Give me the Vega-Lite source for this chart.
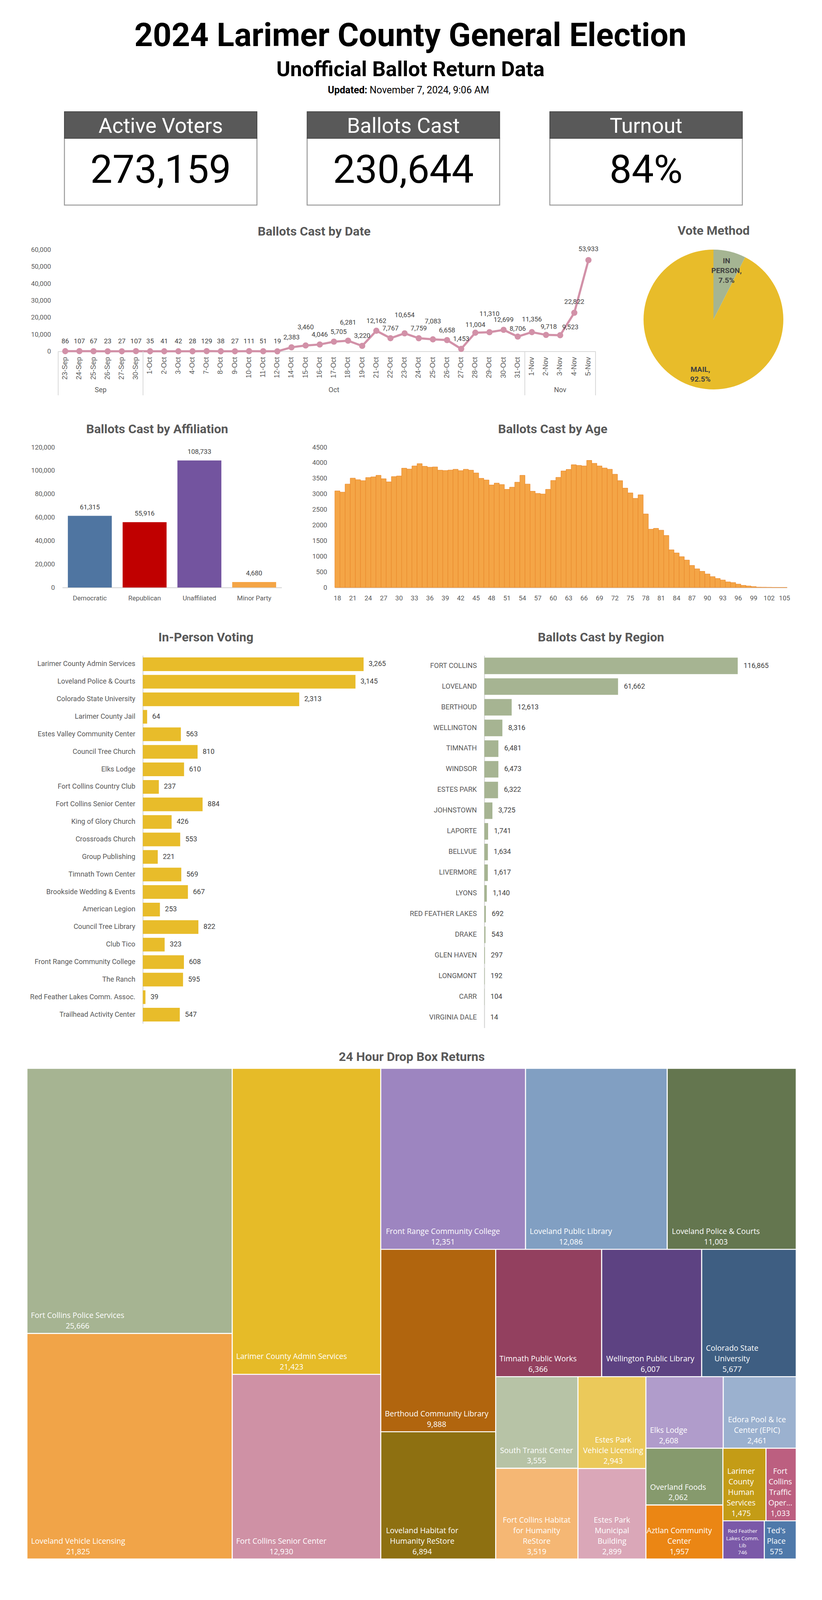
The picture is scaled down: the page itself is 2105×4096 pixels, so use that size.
{
"$schema": "https://vega.github.io/schema/vega-lite/v6.json",
"width": 2105, "height": 4096, "autosize": {"type": "none"}, "padding": 0, "background": "#ffffff",
"config": {
 "view": {"stroke": null}, "font": "Roboto",
 "axis": {"labelFont": "Roboto", "labelColor": "#595959", "labelFontSize": 17, "ticks": false, "tickSize": 0, "grid": false, "domainColor": "#D9D9D9", "domainWidth": 2.5, "titleFont": "Roboto", "titleFontSize": 32, "titleFontWeight": "bold", "titleColor": "#595959", "titleBaseline": "middle", "titleAlign": "center", "titleAngle": 0, "labelOverlap": false},
 "style": {
  "tmname": {"color": "#ffffff", "fill": "#ffffff", "font": "Open Sans", "fontSize": 19.5, "align": "center", "baseline": "middle", "lineBreak": "\n", "lineHeight": 27, "dy": -45.3},
  "tmval": {"color": "#ffffff", "fill": "#ffffff", "font": "Open Sans", "fontSize": 19.5, "align": "center", "baseline": "middle", "dy": -18.5},
  "tmnames": {"color": "#ffffff", "fill": "#ffffff", "font": "Open Sans", "fontSize": 13.5, "align": "center", "baseline": "middle", "lineBreak": "\n", "lineHeight": 18.4, "dy": -70.8},
  "tmvals": {"color": "#ffffff", "fill": "#ffffff", "font": "Open Sans", "fontSize": 13.5, "align": "center", "baseline": "middle", "dy": -15.6},
  "dlabel": {"color": "#404040", "fill": "#404040", "font": "Roboto", "fontSize": 17, "baseline": "middle", "align": "center"}
 }
},
"datasets": {
 "kpi": [{"metric": "Active Voters", "value": 273159}, {"metric": "Ballots Cast", "value": 230644}, {"metric": "Turnout", "value": 0.84}],
 "daily": [
  {"date": "23-Sep", "ballots": 86}, {"date": "24-Sep", "ballots": 107}, {"date": "25-Sep", "ballots": 67}, {"date": "26-Sep", "ballots": 23}, {"date": "27-Sep", "ballots": 27}, {"date": "30-Sep", "ballots": 107},
  {"date": "1-Oct", "ballots": 35}, {"date": "2-Oct", "ballots": 41}, {"date": "3-Oct", "ballots": 42}, {"date": "4-Oct", "ballots": 28}, {"date": "7-Oct", "ballots": 129}, {"date": "8-Oct", "ballots": 38}, {"date": "9-Oct", "ballots": 27}, {"date": "10-Oct", "ballots": 111}, {"date": "11-Oct", "ballots": 51}, {"date": "12-Oct", "ballots": 19},
  {"date": "14-Oct", "ballots": 2383}, {"date": "15-Oct", "ballots": 3460}, {"date": "16-Oct", "ballots": 4046}, {"date": "17-Oct", "ballots": 5705}, {"date": "18-Oct", "ballots": 6281}, {"date": "19-Oct", "ballots": 3220},
  {"date": "21-Oct", "ballots": 12162}, {"date": "22-Oct", "ballots": 7767}, {"date": "23-Oct", "ballots": 10654}, {"date": "24-Oct", "ballots": 7759}, {"date": "25-Oct", "ballots": 7083}, {"date": "26-Oct", "ballots": 6658}, {"date": "27-Oct", "ballots": 1453},
  {"date": "28-Oct", "ballots": 11004}, {"date": "29-Oct", "ballots": 11310}, {"date": "30-Oct", "ballots": 12699}, {"date": "31-Oct", "ballots": 8706},
  {"date": "1-Nov", "ballots": 11356}, {"date": "2-Nov", "ballots": 9718}, {"date": "3-Nov", "ballots": 9523}, {"date": "4-Nov", "ballots": 22822}, {"date": "5-Nov", "ballots": 53933}
 ],
 "method": [{"method": "IN PERSON", "share": 0.075}, {"method": "MAIL", "share": 0.925}],
 "party": [{"party": "Democratic", "ballots": 61315}, {"party": "Republican", "ballots": 55916}, {"party": "Unaffiliated", "ballots": 108733}, {"party": "Minor Party", "ballots": 4680}],
 "age": [
  {"age": 18, "ballots": 3100}, {"age": 19, "ballots": 3060}, {"age": 20, "ballots": 3320}, {"age": 21, "ballots": 3510}, {"age": 22, "ballots": 3460}, {"age": 23, "ballots": 3430}, {"age": 24, "ballots": 3530}, {"age": 25, "ballots": 3550}, {"age": 26, "ballots": 3600}, {"age": 27, "ballots": 3490},
  {"age": 28, "ballots": 3390}, {"age": 29, "ballots": 3560}, {"age": 30, "ballots": 3580}, {"age": 31, "ballots": 3830}, {"age": 32, "ballots": 3800}, {"age": 33, "ballots": 3900}, {"age": 34, "ballots": 3975}, {"age": 35, "ballots": 3890}, {"age": 36, "ballots": 3860}, {"age": 37, "ballots": 3870},
  {"age": 38, "ballots": 3765}, {"age": 39, "ballots": 3755}, {"age": 40, "ballots": 3770}, {"age": 41, "ballots": 3795}, {"age": 42, "ballots": 3750}, {"age": 43, "ballots": 3795}, {"age": 44, "ballots": 3765}, {"age": 45, "ballots": 3675}, {"age": 46, "ballots": 3505}, {"age": 47, "ballots": 3450},
  {"age": 48, "ballots": 3290}, {"age": 49, "ballots": 3350}, {"age": 50, "ballots": 3305}, {"age": 51, "ballots": 3150}, {"age": 52, "ballots": 3220}, {"age": 53, "ballots": 3380}, {"age": 54, "ballots": 3600}, {"age": 55, "ballots": 3320}, {"age": 56, "ballots": 3090}, {"age": 57, "ballots": 3020},
  {"age": 58, "ballots": 3000}, {"age": 59, "ballots": 3150}, {"age": 60, "ballots": 3435}, {"age": 61, "ballots": 3535}, {"age": 62, "ballots": 3740}, {"age": 63, "ballots": 3790}, {"age": 64, "ballots": 3940}, {"age": 65, "ballots": 3920}, {"age": 66, "ballots": 3900}, {"age": 67, "ballots": 4080},
  {"age": 68, "ballots": 3985}, {"age": 69, "ballots": 3900}, {"age": 70, "ballots": 3835}, {"age": 71, "ballots": 3795}, {"age": 72, "ballots": 3635}, {"age": 73, "ballots": 3430}, {"age": 74, "ballots": 3190}, {"age": 75, "ballots": 3035}, {"age": 76, "ballots": 2860}, {"age": 77, "ballots": 2975},
  {"age": 78, "ballots": 2360}, {"age": 79, "ballots": 1870}, {"age": 80, "ballots": 1900}, {"age": 81, "ballots": 1840}, {"age": 82, "ballots": 1670}, {"age": 83, "ballots": 1210}, {"age": 84, "ballots": 1110}, {"age": 85, "ballots": 990}, {"age": 86, "ballots": 880}, {"age": 87, "ballots": 710},
  {"age": 88, "ballots": 600}, {"age": 89, "ballots": 520}, {"age": 90, "ballots": 435}, {"age": 91, "ballots": 350}, {"age": 92, "ballots": 290}, {"age": 93, "ballots": 240}, {"age": 94, "ballots": 180}, {"age": 95, "ballots": 160}, {"age": 96, "ballots": 110}, {"age": 97, "ballots": 70},
  {"age": 98, "ballots": 50}, {"age": 99, "ballots": 30}, {"age": 100, "ballots": 12}, {"age": 101, "ballots": 10}, {"age": 102, "ballots": 8}, {"age": 103, "ballots": 2}, {"age": 104, "ballots": 1}, {"age": 105, "ballots": 1}
 ],
 "site": [
  {"site": "Larimer County Admin Services", "ballots": 3265}, {"site": "Loveland Police & Courts", "ballots": 3145}, {"site": "Colorado State University", "ballots": 2313}, {"site": "Larimer County Jail", "ballots": 64},
  {"site": "Estes Valley Community Center", "ballots": 563}, {"site": "Council Tree Church", "ballots": 810}, {"site": "Elks Lodge", "ballots": 610}, {"site": "Fort Collins Country Club", "ballots": 237},
  {"site": "Fort Collins Senior Center", "ballots": 884}, {"site": "King of Glory Church", "ballots": 426}, {"site": "Crossroads Church", "ballots": 553}, {"site": "Group Publishing", "ballots": 221},
  {"site": "Timnath Town Center", "ballots": 569}, {"site": "Brookside Wedding & Events", "ballots": 667}, {"site": "American Legion", "ballots": 253}, {"site": "Council Tree Library", "ballots": 822},
  {"site": "Club Tico", "ballots": 323}, {"site": "Front Range Community College", "ballots": 608}, {"site": "The Ranch", "ballots": 595}, {"site": "Red Feather Lakes Comm. Assoc.", "ballots": 39}, {"site": "Trailhead Activity Center", "ballots": 547}
 ],
 "region": [
  {"region": "FORT COLLINS", "ballots": 116865}, {"region": "LOVELAND", "ballots": 61662}, {"region": "BERTHOUD", "ballots": 12613}, {"region": "WELLINGTON", "ballots": 8316}, {"region": "TIMNATH", "ballots": 6481}, {"region": "WINDSOR", "ballots": 6473},
  {"region": "ESTES PARK", "ballots": 6322}, {"region": "JOHNSTOWN", "ballots": 3725}, {"region": "LAPORTE", "ballots": 1741}, {"region": "BELLVUE", "ballots": 1634}, {"region": "LIVERMORE", "ballots": 1617}, {"region": "LYONS", "ballots": 1140},
  {"region": "RED FEATHER LAKES", "ballots": 692}, {"region": "DRAKE", "ballots": 543}, {"region": "GLEN HAVEN", "ballots": 297}, {"region": "LONGMONT", "ballots": 192}, {"region": "CARR", "ballots": 104}, {"region": "VIRGINIA DALE", "ballots": 14}
 ],
 "dropbox": [
  {"group": "A", "name": "Fort Collins Police Services", "ballots": 25666}, {"group": "A", "name": "Loveland Vehicle Licensing", "ballots": 21825},
  {"group": "B", "name": "Larimer County Admin Services", "ballots": 21423}, {"group": "B", "name": "Fort Collins Senior Center", "ballots": 12930},
  {"group": "C", "name": "Front Range Community College", "ballots": 12351}, {"group": "C", "name": "Loveland Public Library", "ballots": 12086}, {"group": "C", "name": "Loveland Police & Courts", "ballots": 11003},
  {"group": "D", "name": "Berthoud Community Library", "ballots": 9888}, {"group": "D", "name": "Loveland Habitat for\nHumanity ReStore", "ballots": 6894},
  {"group": "E", "name": "Timnath Public Works", "ballots": 6366}, {"group": "E", "name": "Wellington Public Library", "ballots": 6007}, {"group": "E", "name": "Colorado State\nUniversity", "ballots": 5677},
  {"group": "F", "name": "South Transit Center", "ballots": 3555}, {"group": "F", "name": "Fort Collins Habitat\nfor Humanity\nReStore", "ballots": 3519},
  {"group": "G", "name": "Estes Park\nVehicle Licensing", "ballots": 2943}, {"group": "G", "name": "Estes Park\nMunicipal\nBuilding", "ballots": 2899},
  {"group": "H", "name": "Elks Lodge", "ballots": 2608}, {"group": "H", "name": "Edora Pool & Ice\nCenter (EPIC)", "ballots": 2461},
  {"group": "I", "name": "Overland Foods", "ballots": 2062}, {"group": "I", "name": "Aztlan Community\nCenter", "ballots": 1957},
  {"group": "J", "name": "Larimer\nCounty\nHuman\nServices", "ballots": 1475}, {"group": "J", "name": "Fort\nCollins\nTraffic\nOper...", "ballots": 1033},
  {"group": "K", "name": "Red Feather\nLakes Comm.\nLib", "ballots": 746}, {"group": "K", "name": "Ted's\nPlace", "ballots": 575}
 ]
},
"resolve": {"scale": {"x": "independent", "y": "independent", "color": "independent"}},
"layer": [
 {
  "data": {"name": "kpi"},
  "encoding": {"x": {"field": "metric", "type": "nominal", "sort": null, "scale": {"type": "band", "domain": ["Active Voters", "Ballots Cast", "Turnout"], "range": [165, 1901], "paddingInner": 0.2068, "paddingOuter": 0}, "axis": null}},
  "layer": [
   {"mark": {"type": "rect", "fill": "#ffffff", "stroke": "#9A9A9A", "strokeWidth": 2.5},
    "encoding": {"y": {"datum": 0, "type": "quantitative", "scale": {"domain": [0, 100], "range": [525, 286], "nice": false, "zero": false}, "axis": null}, "y2": {"datum": 71.55}}},
   {"mark": {"type": "rect", "fill": "#595959", "stroke": "#474747", "strokeWidth": 2},
    "encoding": {"y": {"datum": 71.55, "type": "quantitative"}, "y2": {"datum": 100}}},
   {"mark": {"type": "text", "color": "#ffffff", "font": "Roboto", "fontSize": 54, "baseline": "middle"},
    "encoding": {"y": {"datum": 84.3, "type": "quantitative"}, "text": {"field": "metric"}}},
   {"transform": [{"filter": {"field": "metric", "oneOf": ["Active Voters", "Ballots Cast"]}}],
    "mark": {"type": "text", "color": "#000000", "font": "Roboto", "fontSize": 101, "baseline": "middle"},
    "encoding": {"y": {"datum": 36.4, "type": "quantitative"}, "text": {"field": "value", "type": "quantitative", "format": ","}}},
   {"transform": [{"filter": {"field": "metric", "equal": "Turnout"}}],
    "mark": {"type": "text", "color": "#000000", "font": "Roboto", "fontSize": 101, "baseline": "middle"},
    "encoding": {"y": {"datum": 36.4, "type": "quantitative"}, "text": {"field": "value", "type": "quantitative", "format": ".0%"}}},
   {"data": {"values": [{"line": "2024 Larimer County General Election"}]},
    "mark": {"type": "text", "color": "#000000", "font": "Roboto", "fontSize": 83, "fontWeight": "bold", "baseline": "middle", "dx": 18},
    "encoding": {"x": {"datum": "Ballots Cast", "type": "nominal"}, "y": {"datum": 180.7, "type": "quantitative"}, "text": {"field": "line"}}},
   {"data": {"values": [{"line": "Unofficial Ballot Return Data"}]},
    "mark": {"type": "text", "color": "#000000", "font": "Roboto", "fontSize": 54, "fontWeight": "bold", "baseline": "middle", "dx": 18},
    "encoding": {"x": {"datum": "Ballots Cast", "type": "nominal"}, "y": {"datum": 144.8, "type": "quantitative"}, "text": {"field": "line"}}},
   {"data": {"values": [{"line": "Updated:"}]},
    "mark": {"type": "text", "color": "#000000", "font": "Roboto", "fontSize": 25, "fontWeight": "bold", "baseline": "middle", "align": "right", "dx": -92.5},
    "encoding": {"x": {"datum": "Ballots Cast", "type": "nominal"}, "y": {"datum": 123.1, "type": "quantitative"}, "text": {"field": "line"}}},
   {"data": {"values": [{"line": "November 7, 2024, 9:06 AM"}]},
    "mark": {"type": "text", "color": "#000000", "font": "Roboto", "fontSize": 25, "baseline": "middle", "align": "left", "dx": -86.5},
    "encoding": {"x": {"datum": "Ballots Cast", "type": "nominal"}, "y": {"datum": 123.1, "type": "quantitative"}, "text": {"field": "line"}}}
  ]
 },
 {
  "data": {"name": "daily"},
  "encoding": {
   "x": {"field": "date", "type": "nominal", "sort": null,
    "scale": {"type": "band", "domain": ["23-Sep","24-Sep","25-Sep","26-Sep","27-Sep","30-Sep","1-Oct","2-Oct","3-Oct","4-Oct","7-Oct","8-Oct","9-Oct","10-Oct","11-Oct","12-Oct","14-Oct","15-Oct","16-Oct","17-Oct","18-Oct","19-Oct","21-Oct","22-Oct","23-Oct","24-Oct","25-Oct","26-Oct","27-Oct","28-Oct","29-Oct","30-Oct","31-Oct","1-Nov","2-Nov","3-Nov","4-Nov","5-Nov"], "range": [149, 1525], "paddingInner": 0, "paddingOuter": 0},
    "axis": {"orient": "bottom", "offset": -3196.6, "labelAngle": -90, "labelFont": "Liberation Sans", "labelFontSize": 18, "labelPadding": 14, "domainWidth": 2, "title": "Ballots Cast by Date", "titleX": 804, "titleY": -307}},
   "y": {"field": "ballots", "type": "quantitative",
    "scale": {"domain": [0, 60000], "range": [899.4, 639.7], "nice": false, "zero": false},
    "axis": {"orient": "left", "offset": -149, "values": [0, 10000, 20000, 30000, 40000, 50000, 60000], "format": ",d", "labelPadding": 19, "domain": false, "title": null}}
  },
  "layer": [
   {"mark": {"type": "line", "color": "#D291A8", "strokeWidth": 5.5}},
   {"mark": {"type": "point", "filled": true, "color": "#D291A8", "size": 250, "opacity": 1}},
   {"transform": [{"filter": {"not": {"field": "date", "oneOf": ["15-Oct", "17-Oct", "18-Oct", "23-Oct", "25-Oct", "28-Oct", "29-Oct", "31-Oct", "1-Nov", "2-Nov", "3-Nov", "4-Nov", "5-Nov"]}}}],
    "mark": {"type": "text", "style": "dlabel", "dy": -25},
    "encoding": {"text": {"field": "ballots", "type": "quantitative", "format": ","}}},
   {"transform": [{"filter": {"field": "date", "oneOf": ["15-Oct", "18-Oct", "23-Oct", "25-Oct", "29-Oct"]}}],
    "mark": {"type": "text", "style": "dlabel", "dy": -46},
    "encoding": {"text": {"field": "ballots", "type": "quantitative", "format": ","}}},
   {"transform": [{"filter": {"field": "date", "oneOf": ["28-Oct", "31-Oct"]}}],
    "mark": {"type": "text", "style": "dlabel", "dy": -20},
    "encoding": {"text": {"field": "ballots", "type": "quantitative", "format": ","}}},
   {"transform": [{"filter": {"field": "date", "equal": "2-Nov"}}],
    "mark": {"type": "text", "style": "dlabel", "dy": -20, "dx": 7},
    "encoding": {"text": {"field": "ballots", "type": "quantitative", "format": ","}}},
   {"transform": [{"filter": {"field": "date", "equal": "1-Nov"}}],
    "mark": {"type": "text", "style": "dlabel", "dy": -32},
    "encoding": {"text": {"field": "ballots", "type": "quantitative", "format": ","}}},
   {"transform": [{"filter": {"field": "date", "equal": "17-Oct"}}],
    "mark": {"type": "text", "style": "dlabel", "dy": -25, "dx": 12},
    "encoding": {"text": {"field": "ballots", "type": "quantitative", "format": ","}}},
   {"transform": [{"filter": {"field": "date", "equal": "3-Nov"}}],
    "mark": {"type": "text", "style": "dlabel", "dy": -20, "dx": 26},
    "encoding": {"text": {"field": "ballots", "type": "quantitative", "format": ","}}},
   {"transform": [{"filter": {"field": "date", "oneOf": ["4-Nov", "5-Nov"]}}],
    "mark": {"type": "text", "style": "dlabel", "dy": -28},
    "encoding": {"text": {"field": "ballots", "type": "quantitative", "format": ","}}}
  ]
 },
 {
  "layer": [
   {"data": {"values": [{"edge": "30-Sep"}, {"edge": "31-Oct"}, {"edge": "5-Nov"}]},
    "mark": {"type": "rule", "color": "#D9D9D9", "strokeWidth": 2},
    "encoding": {"x": {"field": "edge", "type": "nominal", "bandPosition": 1,
      "scale": {"type": "band", "domain": ["23-Sep","24-Sep","25-Sep","26-Sep","27-Sep","30-Sep","1-Oct","2-Oct","3-Oct","4-Oct","7-Oct","8-Oct","9-Oct","10-Oct","11-Oct","12-Oct","14-Oct","15-Oct","16-Oct","17-Oct","18-Oct","19-Oct","21-Oct","22-Oct","23-Oct","24-Oct","25-Oct","26-Oct","27-Oct","28-Oct","29-Oct","30-Oct","31-Oct","1-Nov","2-Nov","3-Nov","4-Nov","5-Nov"], "range": [149, 1525], "paddingInner": 0, "paddingOuter": 0}, "axis": null},
     "y": {"datum": 0, "type": "quantitative", "scale": {"domain": [0, 1], "range": [899.4, 1012], "nice": false, "zero": false}, "axis": null},
     "y2": {"datum": 1}}},
   {"data": {"values": [{"edge": "23-Sep"}]},
    "mark": {"type": "rule", "color": "#D9D9D9", "strokeWidth": 2},
    "encoding": {"x": {"field": "edge", "type": "nominal", "bandPosition": 0, "axis": null},
     "y": {"datum": 0, "type": "quantitative"}, "y2": {"datum": 1}}},
   {"data": {"values": [{"month": "Oct", "anchor": "17-Oct"}, {"month": "Nov", "anchor": "3-Nov"}]},
    "mark": {"type": "text", "color": "#595959", "font": "Roboto", "fontSize": 18, "baseline": "middle"},
    "encoding": {"x": {"field": "anchor", "type": "nominal", "bandPosition": 0.5, "axis": null},
     "y": {"datum": 0.885, "type": "quantitative"}, "text": {"field": "month"}}},
   {"data": {"values": [{"month": "Sep", "anchor": "25-Sep"}]},
    "mark": {"type": "text", "color": "#595959", "font": "Roboto", "fontSize": 18, "baseline": "middle"},
    "encoding": {"x": {"field": "anchor", "type": "nominal", "bandPosition": 1, "axis": null},
     "y": {"datum": 0.885, "type": "quantitative"}, "text": {"field": "month"}}}
  ]
 },
 {
  "data": {"name": "method"},
  "encoding": {
   "x": {"datum": 0, "type": "quantitative", "scale": {"domain": [0, 1], "range": [1827, 1828], "nice": false, "zero": false},
    "axis": {"orient": "bottom", "offset": -3506, "labels": false, "domain": false, "title": "Vote Method", "titleX": 1827, "titleY": 0}},
   "y": {"datum": 0, "type": "quantitative", "scale": {"domain": [0, 1], "range": [818, 817], "nice": false, "zero": false}, "axis": null},
   "theta": {"field": "share", "type": "quantitative", "stack": true},
   "order": {"field": "method", "type": "nominal", "sort": "ascending"},
   "detail": {"field": "method", "type": "nominal"}
  },
  "layer": [
   {"mark": {"type": "arc", "radius": 179},
    "encoding": {"color": {"field": "method", "type": "nominal", "scale": {"domain": ["IN PERSON", "MAIL"], "range": ["#A5B592", "#E8BC2A"]}, "legend": null}}},
   {"mark": {"type": "text", "radius": 143, "dy": -11, "color": "#404040", "font": "Roboto", "fontWeight": "bold", "fontSize": 19, "lineHeight": 25, "baseline": "middle"},
    "encoding": {"text": {"condition": {"test": "datum.method === 'IN PERSON'", "value": ["IN", "PERSON,", "7.5%"]}, "value": ["MAIL,", "92.5%"]}}}
  ]
 },
 {
  "data": {"name": "party"},
  "encoding": {
   "x": {"field": "party", "type": "nominal", "sort": null,
    "scale": {"type": "band", "range": [159.6, 721.3], "paddingInner": 0.198, "paddingOuter": 0.101},
    "axis": {"orient": "bottom", "offset": -2592, "labelAngle": 0, "labelPadding": 19.7, "title": "Ballots Cast by Affiliation", "titleX": 402, "titleY": -406}},
   "y": {"field": "ballots", "type": "quantitative",
    "scale": {"domain": [0, 120000], "range": [1504, 1145], "nice": false, "zero": false},
    "axis": {"orient": "left", "offset": -159.6, "values": [0, 20000, 40000, 60000, 80000, 100000, 120000], "format": ",d", "labelPadding": 19.6, "domain": false, "title": null}}
  },
  "layer": [
   {"mark": {"type": "bar"},
    "encoding": {"color": {"field": "party", "type": "nominal", "scale": {"domain": ["Democratic", "Republican", "Unaffiliated", "Minor Party"], "range": ["#4F75A1", "#C00000", "#73549F", "#F4A546"]}, "legend": null}}},
   {"mark": {"type": "text", "color": "#404040", "font": "Roboto", "fontSize": 17, "baseline": "bottom", "dy": -13},
    "encoding": {"text": {"field": "ballots", "type": "quantitative", "format": ","}}}
  ]
 },
 {
  "data": {"name": "age"},
  "mark": {"type": "bar", "color": "#F4A546", "stroke": "#E8862A", "strokeWidth": 1},
  "encoding": {
   "x": {"field": "age", "type": "ordinal",
    "scale": {"type": "band", "range": [857.4, 2015.6], "paddingInner": 0, "paddingOuter": 0},
    "axis": {"orient": "bottom", "offset": -2592, "labelAngle": 0, "labelPadding": 19.7, "values": [18,21,24,27,30,33,36,39,42,45,48,51,54,57,60,63,66,69,72,75,78,81,84,87,90,93,96,99,102,105], "title": "Ballots Cast by Age", "titleX": 1415, "titleY": -406}},
   "y": {"field": "ballots", "type": "quantitative",
    "scale": {"domain": [0, 4500], "range": [1504, 1145], "nice": false, "zero": false},
    "axis": {"orient": "left", "offset": -857.4, "values": [0, 500, 1000, 1500, 2000, 2500, 3000, 3500, 4000, 4500], "format": "d", "labelPadding": 20, "domain": false, "title": null}}
  }
 },
 {
  "data": {"name": "site"},
  "encoding": {
   "y": {"field": "site", "type": "nominal", "sort": null,
    "scale": {"type": "band", "range": [1678, 2620], "paddingInner": 0.22, "paddingOuter": 0.11},
    "axis": {"orient": "left", "offset": -365.7, "labelFontSize": 18, "labelPadding": 19.6, "labelLimit": 0, "domainWidth": 2.5, "title": null}},
   "x": {"field": "ballots", "type": "quantitative",
    "scale": {"domain": [0, 3500], "range": [365.7, 971.8], "nice": false, "zero": false},
    "axis": {"orient": "bottom", "offset": -2465, "labels": false, "domain": false, "title": "In-Person Voting", "titleX": 526.7, "titleY": 0}}
  },
  "layer": [
   {"mark": {"type": "bar", "color": "#E8BC2A"}},
   {"mark": {"type": "text", "color": "#404040", "font": "Roboto", "fontSize": 18, "align": "left", "baseline": "middle", "dx": 13},
    "encoding": {"text": {"field": "ballots", "type": "quantitative", "format": ","}}}
  ]
 },
 {
  "data": {"name": "region"},
  "encoding": {
   "y": {"field": "region", "type": "nominal", "sort": null,
    "scale": {"type": "band", "range": [1678.2, 2631.3], "paddingInner": 0.2, "paddingOuter": 0.1},
    "axis": {"orient": "left", "offset": -1240.3, "labelFontSize": 18, "labelPadding": 19.7, "labelLimit": 0, "domainWidth": 2.5, "title": null}},
   "x": {"field": "ballots", "type": "quantitative",
    "scale": {"domain": [0, 125000], "range": [1240.3, 1934.4], "nice": false, "zero": false},
    "axis": {"orient": "bottom", "offset": -2465, "labels": false, "domain": false, "title": "Ballots Cast by Region", "titleX": 1538.5, "titleY": 0}}
  },
  "layer": [
   {"mark": {"type": "bar", "color": "#A6B492"}},
   {"mark": {"type": "text", "color": "#404040", "font": "Roboto", "fontSize": 18, "align": "left", "baseline": "middle", "dx": 15},
    "encoding": {"text": {"field": "ballots", "type": "quantitative", "format": ","}}}
  ]
 },
 {
  "data": {"name": "dropbox"},
  "transform": [{"filter": {"field": "group", "equal": "A"}}, {"stack": "ballots", "groupby": [], "sort": [{"field": "ballots", "order": "descending"}], "offset": "normalize", "as": ["s0", "s1"]}],
  "layer": [
   {"mark": {"type": "rect", "stroke": "#ffffff", "strokeWidth": 2.6},
    "encoding": {
     "x": {"datum": 0, "type": "quantitative", "scale": {"domain": [0, 1], "range": [69, 594.8], "nice": false, "zero": false}, "axis": {"orient": "bottom", "offset": -1391, "labels": false, "domain": false, "title": "24 Hour Drop Box Returns", "titleX": 1054, "titleY": 0}},
     "x2": {"datum": 1},
     "y": {"field": "s0", "type": "quantitative", "scale": {"domain": [0, 1], "range": [2735, 3991], "nice": false, "zero": false}, "axis": null},
     "y2": {"field": "s1"},
     "color": {"field": "name", "type": "nominal", "scale": {"domain": ["Fort Collins Police Services", "Loveland Vehicle Licensing"], "range": ["#A6B492", "#F1A448"]}, "legend": null}}},
   {"transform": [{"filter": {"field": "name", "equal": "Fort Collins Police Services"}}], "encoding": {"x": {"datum": 0, "type": "quantitative"}, "y": {"field": "s1", "type": "quantitative"}},
    "layer": [{"mark": {"type": "text", "style": "tmname", "dx": 129.6}, "encoding": {"text": {"field": "name"}}}, {"mark": {"type": "text", "style": "tmval", "dx": 129.6}, "encoding": {"text": {"field": "ballots", "type": "quantitative", "format": ","}}}]},
   {"transform": [{"filter": {"field": "name", "equal": "Loveland Vehicle Licensing"}}], "encoding": {"x": {"datum": 0, "type": "quantitative"}, "y": {"field": "s1", "type": "quantitative"}},
    "layer": [{"mark": {"type": "text", "style": "tmname", "dx": 131}, "encoding": {"text": {"field": "name"}}}, {"mark": {"type": "text", "style": "tmval", "dx": 131}, "encoding": {"text": {"field": "ballots", "type": "quantitative", "format": ","}}}]}
  ]
 },
 {
  "data": {"name": "dropbox"},
  "transform": [{"filter": {"field": "group", "equal": "B"}}, {"stack": "ballots", "groupby": [], "sort": [{"field": "ballots", "order": "descending"}], "offset": "normalize", "as": ["s0", "s1"]}],
  "layer": [
   {"mark": {"type": "rect", "stroke": "#ffffff", "strokeWidth": 2.6},
    "encoding": {
     "x": {"datum": 0, "type": "quantitative", "scale": {"domain": [0, 1], "range": [594.8, 975.1], "nice": false, "zero": false}, "axis": null},
     "x2": {"datum": 1},
     "y": {"field": "s0", "type": "quantitative", "scale": {"domain": [0, 1], "range": [2735, 3991], "nice": false, "zero": false}, "axis": null},
     "y2": {"field": "s1"},
     "color": {"field": "name", "type": "nominal", "scale": {"domain": ["Larimer County Admin Services", "Fort Collins Senior Center"], "range": ["#E6BB28", "#CF91A5"]}, "legend": null}}},
   {"transform": [{"filter": {"field": "name", "equal": "Larimer County Admin Services"}}], "encoding": {"x": {"datum": 0, "type": "quantitative"}, "y": {"field": "s1", "type": "quantitative"}},
    "layer": [{"mark": {"type": "text", "style": "tmname", "dx": 151.8}, "encoding": {"text": {"field": "name"}}}, {"mark": {"type": "text", "style": "tmval", "dx": 151.8}, "encoding": {"text": {"field": "ballots", "type": "quantitative", "format": ","}}}]},
   {"transform": [{"filter": {"field": "name", "equal": "Fort Collins Senior Center"}}], "encoding": {"x": {"datum": 0, "type": "quantitative"}, "y": {"field": "s1", "type": "quantitative"}},
    "layer": [{"mark": {"type": "text", "style": "tmname", "dx": 125.6}, "encoding": {"text": {"field": "name"}}}, {"mark": {"type": "text", "style": "tmval", "dx": 125.6}, "encoding": {"text": {"field": "ballots", "type": "quantitative", "format": ","}}}]}
  ]
 },
 {
  "data": {"name": "dropbox"},
  "transform": [{"filter": {"field": "group", "equal": "C"}}, {"stack": "ballots", "groupby": [], "sort": [{"field": "ballots", "order": "descending"}], "offset": "normalize", "as": ["s0", "s1"]}],
  "layer": [
   {"mark": {"type": "rect", "stroke": "#ffffff", "strokeWidth": 2.6},
    "encoding": {
     "x": {"field": "s0", "type": "quantitative", "scale": {"domain": [0, 1], "range": [975.1, 2039], "nice": false, "zero": false}, "axis": null},
     "x2": {"field": "s1"},
     "y": {"datum": 0, "type": "quantitative", "scale": {"domain": [0, 1], "range": [2735, 3198.2], "nice": false, "zero": false}, "axis": null},
     "y2": {"datum": 1},
     "color": {"field": "name", "type": "nominal", "scale": {"domain": ["Front Range Community College", "Loveland Public Library", "Loveland Police & Courts"], "range": ["#9D85C0", "#819FC2", "#64764F"]}, "legend": null}}},
   {"transform": [{"filter": {"field": "name", "equal": "Front Range Community College"}}], "encoding": {"x": {"field": "s0", "type": "quantitative"}, "y": {"datum": 1, "type": "quantitative"}},
    "layer": [{"mark": {"type": "text", "style": "tmname", "dx": 159.3}, "encoding": {"text": {"field": "name"}}}, {"mark": {"type": "text", "style": "tmval", "dx": 159.3}, "encoding": {"text": {"field": "ballots", "type": "quantitative", "format": ","}}}]},
   {"transform": [{"filter": {"field": "name", "equal": "Loveland Public Library"}}], "encoding": {"x": {"field": "s0", "type": "quantitative"}, "y": {"datum": 1, "type": "quantitative"}},
    "layer": [{"mark": {"type": "text", "style": "tmname", "dx": 116}, "encoding": {"text": {"field": "name"}}}, {"mark": {"type": "text", "style": "tmval", "dx": 116}, "encoding": {"text": {"field": "ballots", "type": "quantitative", "format": ","}}}]},
   {"transform": [{"filter": {"field": "name", "equal": "Loveland Police & Courts"}}], "encoding": {"x": {"field": "s0", "type": "quantitative"}, "y": {"datum": 1, "type": "quantitative"}},
    "layer": [{"mark": {"type": "text", "style": "tmname", "dx": 124.5}, "encoding": {"text": {"field": "name"}}}, {"mark": {"type": "text", "style": "tmval", "dx": 124.5}, "encoding": {"text": {"field": "ballots", "type": "quantitative", "format": ","}}}]}
  ]
 },
 {
  "data": {"name": "dropbox"},
  "transform": [{"filter": {"field": "group", "equal": "D"}}, {"stack": "ballots", "groupby": [], "sort": [{"field": "ballots", "order": "descending"}], "offset": "normalize", "as": ["s0", "s1"]}],
  "layer": [
   {"mark": {"type": "rect", "stroke": "#ffffff", "strokeWidth": 2.6},
    "encoding": {
     "x": {"datum": 0, "type": "quantitative", "scale": {"domain": [0, 1], "range": [975.1, 1269.4], "nice": false, "zero": false}, "axis": null},
     "x2": {"datum": 1},
     "y": {"field": "s0", "type": "quantitative", "scale": {"domain": [0, 1], "range": [3198.2, 3991], "nice": false, "zero": false}, "axis": null},
     "y2": {"field": "s1"},
     "color": {"field": "name", "type": "nominal", "scale": {"domain": ["Berthoud Community Library", "Loveland Habitat for\nHumanity ReStore"], "range": ["#B1650E", "#8E7011"]}, "legend": null}}},
   {"transform": [{"filter": {"field": "name", "equal": "Berthoud Community Library"}}], "encoding": {"x": {"datum": 0, "type": "quantitative"}, "y": {"field": "s1", "type": "quantitative"}},
    "layer": [{"mark": {"type": "text", "style": "tmname", "dx": 143}, "encoding": {"text": {"field": "name"}}}, {"mark": {"type": "text", "style": "tmval", "dx": 143}, "encoding": {"text": {"field": "ballots", "type": "quantitative", "format": ","}}}]},
   {"transform": [{"filter": {"field": "name", "equal": "Loveland Habitat for\nHumanity ReStore"}}], "encoding": {"x": {"datum": 0, "type": "quantitative"}, "y": {"field": "s1", "type": "quantitative"}},
    "layer": [{"mark": {"type": "text", "style": "tmname", "dx": 106, "dy": -72.3}, "encoding": {"text": {"field": "name"}}}, {"mark": {"type": "text", "style": "tmval", "dx": 106}, "encoding": {"text": {"field": "ballots", "type": "quantitative", "format": ","}}}]}
  ]
 },
 {
  "data": {"name": "dropbox"},
  "transform": [{"filter": {"field": "group", "equal": "E"}}, {"stack": "ballots", "groupby": [], "sort": [{"field": "ballots", "order": "descending"}], "offset": "normalize", "as": ["s0", "s1"]}],
  "layer": [
   {"mark": {"type": "rect", "stroke": "#ffffff", "strokeWidth": 2.6},
    "encoding": {
     "x": {"field": "s0", "type": "quantitative", "scale": {"domain": [0, 1], "range": [1269.4, 2039], "nice": false, "zero": false}, "axis": null},
     "x2": {"field": "s1"},
     "y": {"datum": 0, "type": "quantitative", "scale": {"domain": [0, 1], "range": [3198.2, 3524.3], "nice": false, "zero": false}, "axis": null},
     "y2": {"datum": 1},
     "color": {"field": "name", "type": "nominal", "scale": {"domain": ["Timnath Public Works", "Wellington Public Library", "Colorado State\nUniversity"], "range": ["#93405F", "#5D4282", "#3E5E82"]}, "legend": null}}},
   {"transform": [{"filter": {"field": "name", "equal": "Timnath Public Works"}}], "encoding": {"x": {"field": "s0", "type": "quantitative"}, "y": {"datum": 1, "type": "quantitative"}},
    "layer": [{"mark": {"type": "text", "style": "tmname", "dx": 108.5}, "encoding": {"text": {"field": "name"}}}, {"mark": {"type": "text", "style": "tmval", "dx": 108.5}, "encoding": {"text": {"field": "ballots", "type": "quantitative", "format": ","}}}]},
   {"transform": [{"filter": {"field": "name", "equal": "Wellington Public Library"}}], "encoding": {"x": {"field": "s0", "type": "quantitative"}, "y": {"datum": 1, "type": "quantitative"}},
    "layer": [{"mark": {"type": "text", "style": "tmname", "dx": 124.5}, "encoding": {"text": {"field": "name"}}}, {"mark": {"type": "text", "style": "tmval", "dx": 124.5}, "encoding": {"text": {"field": "ballots", "type": "quantitative", "format": ","}}}]},
   {"transform": [{"filter": {"field": "name", "equal": "Colorado State\nUniversity"}}], "encoding": {"x": {"field": "s0", "type": "quantitative"}, "y": {"datum": 1, "type": "quantitative"}},
    "layer": [{"mark": {"type": "text", "style": "tmname", "dx": 78, "dy": -72.3}, "encoding": {"text": {"field": "name"}}}, {"mark": {"type": "text", "style": "tmval", "dx": 78}, "encoding": {"text": {"field": "ballots", "type": "quantitative", "format": ","}}}]}
  ]
 },
 {
  "data": {"name": "dropbox"},
  "transform": [{"filter": {"field": "group", "equal": "F"}}, {"stack": "ballots", "groupby": [], "sort": [{"field": "ballots", "order": "descending"}], "offset": "normalize", "as": ["s0", "s1"]}],
  "layer": [
   {"mark": {"type": "rect", "stroke": "#ffffff", "strokeWidth": 2.6},
    "encoding": {
     "x": {"datum": 0, "type": "quantitative", "scale": {"domain": [0, 1], "range": [1269.4, 1480.1], "nice": false, "zero": false}, "axis": null},
     "x2": {"datum": 1},
     "y": {"field": "s0", "type": "quantitative", "scale": {"domain": [0, 1], "range": [3524.3, 3991], "nice": false, "zero": false}, "axis": null},
     "y2": {"field": "s1"},
     "color": {"field": "name", "type": "nominal", "scale": {"domain": ["South Transit Center", "Fort Collins Habitat\nfor Humanity\nReStore"], "range": ["#B7C3A6", "#F5B774"]}, "legend": null}}},
   {"transform": [{"filter": {"field": "name", "equal": "South Transit Center"}}], "encoding": {"x": {"datum": 0, "type": "quantitative"}, "y": {"field": "s1", "type": "quantitative"}},
    "layer": [{"mark": {"type": "text", "style": "tmname", "dx": 104.6}, "encoding": {"text": {"field": "name"}}}, {"mark": {"type": "text", "style": "tmval", "dx": 104.6}, "encoding": {"text": {"field": "ballots", "type": "quantitative", "format": ","}}}]},
   {"transform": [{"filter": {"field": "name", "equal": "Fort Collins Habitat\nfor Humanity\nReStore"}}], "encoding": {"x": {"datum": 0, "type": "quantitative"}, "y": {"field": "s1", "type": "quantitative"}},
    "layer": [{"mark": {"type": "text", "style": "tmname", "dx": 105, "dy": -99.3}, "encoding": {"text": {"field": "name"}}}, {"mark": {"type": "text", "style": "tmval", "dx": 105}, "encoding": {"text": {"field": "ballots", "type": "quantitative", "format": ","}}}]}
  ]
 },
 {
  "data": {"name": "dropbox"},
  "transform": [{"filter": {"field": "group", "equal": "G"}}, {"stack": "ballots", "groupby": [], "sort": [{"field": "ballots", "order": "descending"}], "offset": "normalize", "as": ["s0", "s1"]}],
  "layer": [
   {"mark": {"type": "rect", "stroke": "#ffffff", "strokeWidth": 2.6},
    "encoding": {
     "x": {"datum": 0, "type": "quantitative", "scale": {"domain": [0, 1], "range": [1480.1, 1654.1], "nice": false, "zero": false}, "axis": null},
     "x2": {"datum": 1},
     "y": {"field": "s0", "type": "quantitative", "scale": {"domain": [0, 1], "range": [3524.3, 3991], "nice": false, "zero": false}, "axis": null},
     "y2": {"field": "s1"},
     "color": {"field": "name", "type": "nominal", "scale": {"domain": ["Estes Park\nVehicle Licensing", "Estes Park\nMunicipal\nBuilding"], "range": ["#EBC95A", "#DAA7B8"]}, "legend": null}}},
   {"transform": [{"filter": {"field": "name", "equal": "Estes Park\nVehicle Licensing"}}], "encoding": {"x": {"datum": 0, "type": "quantitative"}, "y": {"field": "s1", "type": "quantitative"}},
    "layer": [{"mark": {"type": "text", "style": "tmname", "dx": 90, "dy": -72.3}, "encoding": {"text": {"field": "name"}}}, {"mark": {"type": "text", "style": "tmval", "dx": 90}, "encoding": {"text": {"field": "ballots", "type": "quantitative", "format": ","}}}]},
   {"transform": [{"filter": {"field": "name", "equal": "Estes Park\nMunicipal\nBuilding"}}], "encoding": {"x": {"datum": 0, "type": "quantitative"}, "y": {"field": "s1", "type": "quantitative"}},
    "layer": [{"mark": {"type": "text", "style": "tmname", "dx": 87, "dy": -99.3}, "encoding": {"text": {"field": "name"}}}, {"mark": {"type": "text", "style": "tmval", "dx": 87}, "encoding": {"text": {"field": "ballots", "type": "quantitative", "format": ","}}}]}
  ]
 },
 {
  "data": {"name": "dropbox"},
  "transform": [{"filter": {"field": "group", "equal": "H"}}, {"stack": "ballots", "groupby": [], "sort": [{"field": "ballots", "order": "descending"}], "offset": "normalize", "as": ["s0", "s1"]}],
  "layer": [
   {"mark": {"type": "rect", "stroke": "#ffffff", "strokeWidth": 2.6},
    "encoding": {
     "x": {"field": "s0", "type": "quantitative", "scale": {"domain": [0, 1], "range": [1654.1, 2039], "nice": false, "zero": false}, "axis": null},
     "x2": {"field": "s1"},
     "y": {"datum": 0, "type": "quantitative", "scale": {"domain": [0, 1], "range": [3524.3, 3707.4], "nice": false, "zero": false}, "axis": null},
     "y2": {"datum": 1},
     "color": {"field": "name", "type": "nominal", "scale": {"domain": ["Elks Lodge", "Edora Pool & Ice\nCenter (EPIC)"], "range": ["#B09CCB", "#9BB1CF"]}, "legend": null}}},
   {"transform": [{"filter": {"field": "name", "equal": "Elks Lodge"}}], "encoding": {"x": {"field": "s0", "type": "quantitative"}, "y": {"datum": 1, "type": "quantitative"}},
    "layer": [{"mark": {"type": "text", "style": "tmname", "dx": 58.3}, "encoding": {"text": {"field": "name"}}}, {"mark": {"type": "text", "style": "tmval", "dx": 58.3}, "encoding": {"text": {"field": "ballots", "type": "quantitative", "format": ","}}}]},
   {"transform": [{"filter": {"field": "name", "equal": "Edora Pool & Ice\nCenter (EPIC)"}}], "encoding": {"x": {"field": "s0", "type": "quantitative"}, "y": {"datum": 1, "type": "quantitative"}},
    "layer": [{"mark": {"type": "text", "style": "tmname", "dx": 86.4, "dy": -72.3}, "encoding": {"text": {"field": "name"}}}, {"mark": {"type": "text", "style": "tmval", "dx": 86.4}, "encoding": {"text": {"field": "ballots", "type": "quantitative", "format": ","}}}]}
  ]
 },
 {
  "data": {"name": "dropbox"},
  "transform": [{"filter": {"field": "group", "equal": "I"}}, {"stack": "ballots", "groupby": [], "sort": [{"field": "ballots", "order": "descending"}], "offset": "normalize", "as": ["s0", "s1"]}],
  "layer": [
   {"mark": {"type": "rect", "stroke": "#ffffff", "strokeWidth": 2.6},
    "encoding": {
     "x": {"datum": 0, "type": "quantitative", "scale": {"domain": [0, 1], "range": [1654.1, 1851.2], "nice": false, "zero": false}, "axis": null},
     "x2": {"datum": 1},
     "y": {"field": "s0", "type": "quantitative", "scale": {"domain": [0, 1], "range": [3707.4, 3991], "nice": false, "zero": false}, "axis": null},
     "y2": {"field": "s1"},
     "color": {"field": "name", "type": "nominal", "scale": {"domain": ["Overland Foods", "Aztlan Community\nCenter"], "range": ["#869A6D", "#EB8614"]}, "legend": null}}},
   {"transform": [{"filter": {"field": "name", "equal": "Overland Foods"}}], "encoding": {"x": {"datum": 0, "type": "quantitative"}, "y": {"field": "s1", "type": "quantitative"}},
    "layer": [{"mark": {"type": "text", "style": "tmname", "dx": 82.4}, "encoding": {"text": {"field": "name"}}}, {"mark": {"type": "text", "style": "tmval", "dx": 82.4}, "encoding": {"text": {"field": "ballots", "type": "quantitative", "format": ","}}}]},
   {"transform": [{"filter": {"field": "name", "equal": "Aztlan Community\nCenter"}}], "encoding": {"x": {"datum": 0, "type": "quantitative"}, "y": {"field": "s1", "type": "quantitative"}},
    "layer": [{"mark": {"type": "text", "style": "tmname", "dx": 85.4, "dy": -72.3}, "encoding": {"text": {"field": "name"}}}, {"mark": {"type": "text", "style": "tmval", "dx": 85.4}, "encoding": {"text": {"field": "ballots", "type": "quantitative", "format": ","}}}]}
  ]
 },
 {
  "data": {"name": "dropbox"},
  "transform": [{"filter": {"field": "group", "equal": "J"}}, {"stack": "ballots", "groupby": [], "sort": [{"field": "ballots", "order": "descending"}], "offset": "normalize", "as": ["s0", "s1"]}],
  "layer": [
   {"mark": {"type": "rect", "stroke": "#ffffff", "strokeWidth": 2.6},
    "encoding": {
     "x": {"field": "s0", "type": "quantitative", "scale": {"domain": [0, 1], "range": [1851.2, 2039], "nice": false, "zero": false}, "axis": null},
     "x2": {"field": "s1"},
     "y": {"datum": 0, "type": "quantitative", "scale": {"domain": [0, 1], "range": [3707.4, 3893.2], "nice": false, "zero": false}, "axis": null},
     "y2": {"datum": 1},
     "color": {"field": "name", "type": "nominal", "scale": {"domain": ["Larimer\nCounty\nHuman\nServices", "Fort\nCollins\nTraffic\nOper..."], "range": ["#C49C16", "#BC5F80"]}, "legend": null}}},
   {"transform": [{"filter": {"field": "name", "equal": "Larimer\nCounty\nHuman\nServices"}}], "encoding": {"x": {"field": "s0", "type": "quantitative"}, "y": {"datum": 1, "type": "quantitative"}},
    "layer": [{"mark": {"type": "text", "style": "tmname", "dx": 46.7, "dy": -126.3}, "encoding": {"text": {"field": "name"}}}, {"mark": {"type": "text", "style": "tmval", "dx": 46.7}, "encoding": {"text": {"field": "ballots", "type": "quantitative", "format": ","}}}]},
   {"transform": [{"filter": {"field": "name", "equal": "Fort\nCollins\nTraffic\nOper..."}}], "encoding": {"x": {"field": "s0", "type": "quantitative"}, "y": {"datum": 1, "type": "quantitative"}},
    "layer": [{"mark": {"type": "text", "style": "tmname", "dx": 36.5, "dy": -126.3}, "encoding": {"text": {"field": "name"}}}, {"mark": {"type": "text", "style": "tmval", "dx": 36.5}, "encoding": {"text": {"field": "ballots", "type": "quantitative", "format": ","}}}]}
  ]
 },
 {
  "data": {"name": "dropbox"},
  "transform": [{"filter": {"field": "group", "equal": "K"}}, {"stack": "ballots", "groupby": [], "sort": [{"field": "ballots", "order": "descending"}], "offset": "normalize", "as": ["s0", "s1"]}],
  "layer": [
   {"mark": {"type": "rect", "stroke": "#ffffff", "strokeWidth": 2.6},
    "encoding": {
     "x": {"field": "s0", "type": "quantitative", "scale": {"domain": [0, 1], "range": [1851.2, 2039], "nice": false, "zero": false}, "axis": null},
     "x2": {"field": "s1"},
     "y": {"datum": 0, "type": "quantitative", "scale": {"domain": [0, 1], "range": [3893.2, 3991], "nice": false, "zero": false}, "axis": null},
     "y2": {"datum": 1},
     "color": {"field": "name", "type": "nominal", "scale": {"domain": ["Red Feather\nLakes Comm.\nLib", "Ted's\nPlace"], "range": ["#7B59A8", "#4F79AA"]}, "legend": null}}},
   {"transform": [{"filter": {"field": "name", "equal": "Red Feather\nLakes Comm.\nLib"}}], "encoding": {"x": {"field": "s0", "type": "quantitative"}, "y": {"datum": 1, "type": "quantitative"}},
    "layer": [{"mark": {"type": "text", "style": "tmnames", "dx": 50.4}, "encoding": {"text": {"field": "name"}}}, {"mark": {"type": "text", "style": "tmvals", "dx": 50.4}, "encoding": {"text": {"field": "ballots", "type": "quantitative", "format": ","}}}]},
   {"transform": [{"filter": {"field": "name", "equal": "Ted's\nPlace"}}], "encoding": {"x": {"field": "s0", "type": "quantitative"}, "y": {"datum": 1, "type": "quantitative"}},
    "layer": [{"mark": {"type": "text", "style": "tmname", "dx": 30.7, "dy": -72.3}, "encoding": {"text": {"field": "name"}}}, {"mark": {"type": "text", "style": "tmval", "dx": 30.7}, "encoding": {"text": {"field": "ballots", "type": "quantitative", "format": ","}}}]}
  ]
 }
]
}
